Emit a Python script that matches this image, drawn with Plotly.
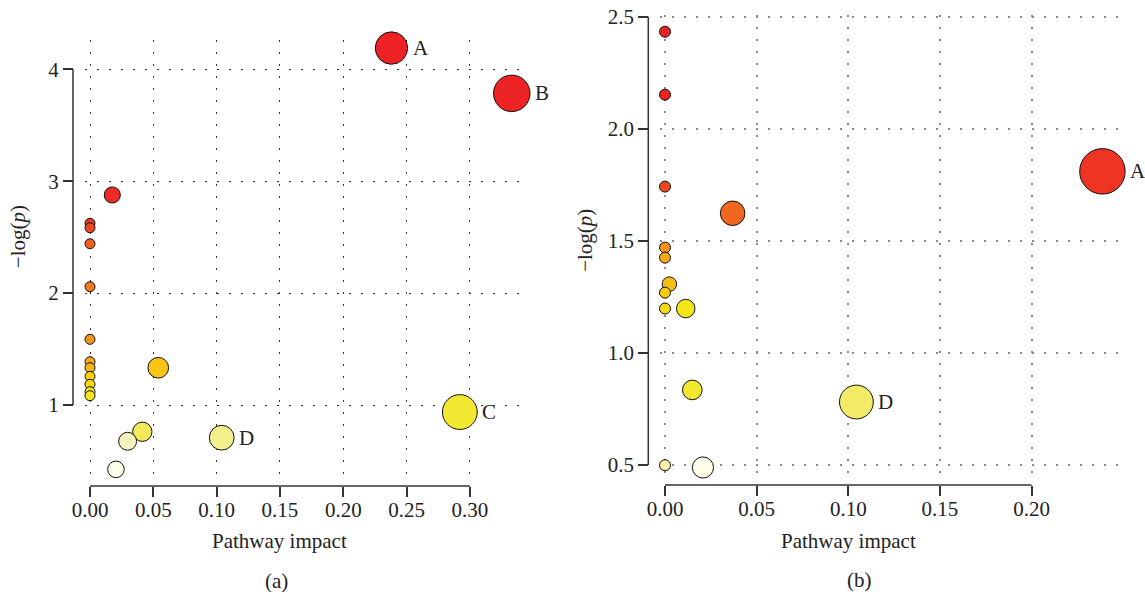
import numpy as np
import plotly.graph_objects as go

# ---------------- Data ----------------
# Panel (a)
impact_a = [0.238, 0.333, 0.292, 0.104, 0.0176, 0.0539, 0.0413, 0.0297, 0.0205,
            0.0, 0.0, 0.0, 0.0, 0.0, 0.0, 0.0, 0.0, 0.0, 0.0, 0.0]
logp_a = [4.19, 3.785, 0.937, 0.708, 2.877, 1.333, 0.761, 0.676, 0.425,
          2.624, 2.584, 2.441, 2.057, 1.587, 1.387, 1.333, 1.256, 1.185, 1.119, 1.083]
label_a = ["A", "B", "C", "D", "", "", "", "", "",
           "", "", "", "", "", "", "", "", "", "", ""]

# Panel (b)
impact_b = [0.2386, 0.1044, 0.0369, 0.0024, 0.0113, 0.0149, 0.0207,
            0.0, 0.0, 0.0, 0.0, 0.0, 0.0, 0.0, 0.0]
logp_b = [1.81, 0.781, 1.623, 1.307, 1.198, 0.835, 0.489,
          2.433, 2.152, 1.742, 1.470, 1.425, 1.269, 1.198, 0.499]
label_b = ["A", "D", "", "", "", "", "",
           "", "", "", "", "", "", "", ""]

xticks_a = [0.00, 0.05, 0.10, 0.15, 0.20, 0.25, 0.30]
yticks_a = [1, 2, 3, 4]
xticks_b = [0.00, 0.05, 0.10, 0.15, 0.20]
yticks_b = [0.5, 1.0, 1.5, 2.0, 2.5]

# ---------------- Helpers ----------------
SERIF = "Liberation Serif, Times New Roman, serif"
INK = "#222222"
AXC = "#333333"
FS = 21

heat = [
    [0.00, "#FEFDEA"], [0.06, "#F7F2B8"], [0.11, "#F4EE88"], [0.16, "#F2EA58"],
    [0.22, "#F2E82A"], [0.30, "#F4E414"], [0.40, "#F8D412"], [0.48, "#F9C414"],
    [0.57, "#F6A81C"], [0.66, "#F28A20"], [0.72, "#F06420"], [0.78, "#EE4A22"],
    [0.85, "#EE3623"], [0.92, "#EE2424"], [1.00, "#EE2224"],
]


def rank_frac(y):
    y = np.asarray(y, dtype=float)
    order = np.argsort(y, kind="stable")
    r = np.empty(len(y))
    r[order] = np.arange(len(y))
    return r / (len(y) - 1)


def bubble_size(x, base, span):
    x = np.asarray(x, dtype=float)
    return base + span * np.sqrt(x / x.max())


fig = go.Figure()
annotations = []
ann_font = dict(family=SERIF, size=FS, color=INK)

for xs, ys, labs, base, span, xa, ya in [
    (impact_a, logp_a, label_a, 10.0, 26.5, "x", "y"),
    (impact_b, logp_b, label_b, 11.0, 34.5, "x2", "y2"),
]:
    sz = bubble_size(xs, base, span)
    fig.add_trace(go.Scatter(
        x=xs, y=ys, mode="markers",
        marker=dict(size=sz, color=rank_frac(ys),
                    colorscale=heat, cmin=0, cmax=1, opacity=1,
                    line=dict(color="#111111", width=1)),
        cliponaxis=False, showlegend=False, xaxis=xa, yaxis=ya,
    ))
    for xi, yi, li, si in zip(xs, ys, labs, sz):
        if li:
            annotations.append(dict(text=li, x=xi, y=yi, xref=xa, yref=ya,
                                    showarrow=False, font=ann_font,
                                    xanchor="left", yanchor="middle",
                                    xshift=si / 2 + 3))

W, H = 1145, 592

common_axis = dict(
    ticks="outside", ticklen=10, tickwidth=1.5, tickcolor=AXC,
    showline=False, zeroline=False, automargin=False,
    tickfont=dict(family=SERIF, size=FS, color=INK),
    anchor="free",
)

fig.update_layout(
    width=W, height=H, margin=dict(l=0, r=0, t=0, b=0, autoexpand=False),
    paper_bgcolor="white", plot_bgcolor="white",
    xaxis=dict(common_axis, domain=[85 / W, 520 / W], range=[-0.00395, 0.3395],
               tickvals=xticks_a, ticktext=[f"{v:.2f}" for v in xticks_a],
               position=1 - 486 / H, showgrid=True, gridcolor="#333333",
               gridwidth=1.2, griddash="1.5px,10.5px", ticklabelstandoff=-5),
    yaxis=dict(common_axis, domain=[1 - 477 / H, 1 - 40 / H], range=[0.3566, 4.262],
               tickvals=yticks_a, ticktext=[f"{v:d}" for v in yticks_a],
               position=73 / W, showgrid=True, gridcolor="#333333",
               gridwidth=1.2, griddash="1.5px,10.5px"),
    xaxis2=dict(common_axis, domain=[660 / W, 1118 / W], range=[-0.00273, 0.2471],
                tickvals=xticks_b, ticktext=[f"{v:.2f}" for v in xticks_b],
                position=1 - 485 / H, showgrid=True, gridcolor="#8a8a8a",
                gridwidth=1.6, griddash="2px,10px", ticklabelstandoff=-5),
    yaxis2=dict(common_axis, domain=[1 - 477 / H, 1 - 15 / H], range=[0.4465, 2.5076],
                tickvals=yticks_b, ticktext=[f"{v:.1f}" for v in yticks_b],
                position=648.3 / W, showgrid=True, gridcolor="#8a8a8a",
                gridwidth=1.6, griddash="2px,10px"),
)

# Detached axis lines spanning first to last tick (R style)
shapes = []
for xt, yt, xr, yr, xpos, ypos in [
    (xticks_a, yticks_a, "x", "y", 73 / W, 1 - 486 / H),
    (xticks_b, yticks_b, "x2", "y2", 648.3 / W, 1 - 485 / H),
]:
    shapes.append(dict(type="line", xref=xr, yref="paper", x0=xt[0], x1=xt[-1],
                       y0=ypos, y1=ypos, line=dict(color=AXC, width=1.5)))
    shapes.append(dict(type="line", xref="paper", yref=yr, x0=xpos, x1=xpos,
                       y0=yt[0], y1=yt[-1], line=dict(color=AXC, width=1.5)))
fig.update_layout(shapes=shapes)

annotations += [
    dict(text="\u2212log(<i>p</i>)", textangle=-90, xref="paper", yref="y",
         x=18 / W, y=(yticks_a[0] + yticks_a[-1]) / 2, showarrow=False, font=ann_font,
         xanchor="center", yanchor="middle"),
    dict(text="\u2212log(<i>p</i>)", textangle=-90, xref="paper", yref="y2",
         x=585 / W, y=(yticks_b[0] + yticks_b[-1]) / 2, showarrow=False, font=ann_font,
         xanchor="center", yanchor="middle"),
    dict(text="Pathway impact", xref="x", yref="paper",
         x=(xticks_a[0] + xticks_a[-1]) / 2, y=1 - 541 / H, showarrow=False,
         font=ann_font, xanchor="center", yanchor="middle"),
    dict(text="Pathway impact", xref="x2", yref="paper",
         x=(xticks_b[0] + xticks_b[-1]) / 2, y=1 - 541 / H, showarrow=False,
         font=ann_font, xanchor="center", yanchor="middle"),
    dict(text="(a)", xref="paper", yref="paper", x=276 / W, y=1 - 581 / H,
         showarrow=False, font=ann_font, xanchor="center", yanchor="middle"),
    dict(text="(b)", xref="paper", yref="paper", x=859 / W, y=1 - 580 / H,
         showarrow=False, font=ann_font, xanchor="center", yanchor="middle"),
]
fig.update_layout(annotations=annotations)

fig.write_html("out.html")
